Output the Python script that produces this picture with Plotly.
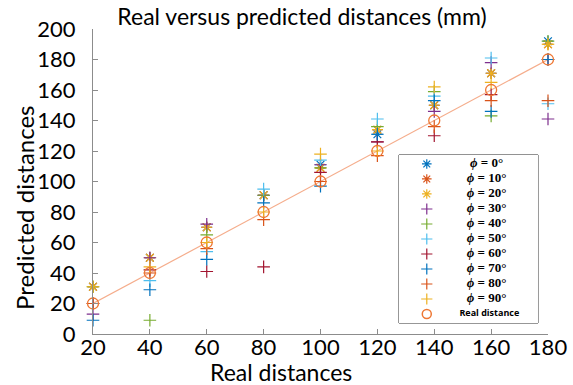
import plotly.graph_objects as go

real = [20, 40, 60, 80, 100, 120, 140, 160, 180]
angles = ["0", "10", "20", "30", "40", "50", "60", "70", "80", "90"]
pred = {
    "0":  [31, 50, 70, 91, 111, 131, 150, 171, 192],
    "10": [31, 50, 70, 91, 109, 134, 150, 171, 190],
    "20": [31, 50, 70, 91, 109, 134, 150, 171, 190],
    "30": [13, 50, 72, 91, 111, 126, 146, 178, 141],
    "40": [31, 9, 65, 91, 109, 136, 159, 143, 192],
    "50": [20, 35, 54, 95, 114, 141, 156, 181, 151],
    "60": [20, 42, 41, 44, 106, 126, 130, 157, 180],
    "70": [9, 29, 49, 86, 97, 131, 153, 146, 180],
    "80": [20, 40, 56, 75, 100, 117, 136, 153, 153],
    "90": [31, 44, 60, 80, 118, 120, 162, 165, 190],
}
legend_labels = [f"<b><i>ϕ</i> = {a}°</b>" for a in angles] + ["Real distance"]

colors = ["#0072BD", "#D95319", "#EDB120", "#7E2F8E", "#77AC30",
          "#4DBEEE", "#A2142F", "#0072BD", "#D95319", "#EDB120"]
symbols = ["asterisk-open"] * 3 + ["cross-thin-open"] * 7
circle_color = "#EE7733"

fig = go.Figure()
fig.add_trace(go.Scatter(x=real, y=real, mode="lines",
                         line=dict(color="#F5AD8C", width=1.2),
                         showlegend=False, hoverinfo="skip"))
for a, c, s, lab in zip(angles, colors, symbols, legend_labels):
    fig.add_trace(go.Scatter(
        x=real, y=pred[a], mode="markers", cliponaxis=False, showlegend=False,
        name=f"ϕ = {a}°",
        marker=dict(symbol=s, size=9, color=c, line=dict(color=c, width=1.2)),
    ))
    # legend entry (drawn on a small helper axis inside the plot)
    fig.add_trace(go.Scatter(
        x=[0.2], y=[lab], mode="markers", xaxis="x2", yaxis="y2",
        showlegend=False, hoverinfo="skip",
        marker=dict(symbol=s, size=8, color=c, line=dict(color=c, width=1.2)),
    ))
fig.add_trace(go.Scatter(
    x=real, y=real, mode="markers", cliponaxis=False, showlegend=False,
    name="Real distance",
    marker=dict(symbol="circle-open", size=11, color=circle_color,
                line=dict(color=circle_color, width=1.3)),
))
fig.add_trace(go.Scatter(
    x=[0.2], y=[legend_labels[-1]], mode="markers", xaxis="x2", yaxis="y2",
    showlegend=False, hoverinfo="skip",
    marker=dict(symbol="circle-open", size=9, color=circle_color,
                line=dict(color=circle_color, width=1.5)),
))
# legend texts
fig.add_trace(go.Scatter(
    x=[0.63] * 10, y=legend_labels[:10], mode="text", text=legend_labels[:10],
    xaxis="x2", yaxis="y2", showlegend=False, hoverinfo="skip",
    textfont=dict(family="Liberation Serif", size=13, color="black"),
))
fig.add_trace(go.Scatter(
    x=[0.65], y=[legend_labels[-1]], mode="text", text=["<b>Real distance</b>"],
    xaxis="x2", yaxis="y2", showlegend=False, hoverinfo="skip",
    textfont=dict(family="Open Sans", size=9, color="black"),
))

axis_common = dict(showline=True, linecolor="#8c8c8c", linewidth=1,
                   ticks="inside", ticklen=5, tickcolor="#8c8c8c",
                   showgrid=False, zeroline=False, mirror=False, automargin=False,
                   tickfont=dict(family="Lato", size=22, color="black"))
fig.update_layout(
    xaxis=dict(range=[20, 180], tickvals=real, ticklabelstandoff=-6, **axis_common),
    yaxis=dict(range=[0, 200], tickvals=list(range(0, 201, 20)),
               ticklabelstandoff=12, **axis_common),
    xaxis2=dict(domain=[0.6725, 0.978], anchor="y2", range=[0, 1], visible=False,
                fixedrange=True),
    yaxis2=dict(domain=[0.036, 0.587], anchor="x2", type="category",
                categoryorder="array", categoryarray=legend_labels[::-1],
                range=[-0.6, 10.6], visible=False, fixedrange=True),
    shapes=[dict(type="rect", xref="x2 domain", yref="y2 domain",
                 x0=0, x1=1, y0=0, y1=1, layer="below",
                 fillcolor="white", line=dict(color="#333333", width=1))],
    annotations=[
        dict(text="Predicted distances", textangle=-90, xref="paper", yref="paper",
             x=-0.152, y=0.413, xanchor="center", yanchor="middle", showarrow=False,
             font=dict(family="Lato", size=24, color="black")),
        dict(text="Real distances", xref="paper", yref="paper",
             x=0.413, y=-0.125, xanchor="center", yanchor="middle", showarrow=False,
             font=dict(family="Lato", size=23, color="black")),
    ],
    width=573, height=385,
    margin=dict(l=93, r=25, t=29, b=51),
    paper_bgcolor="white", plot_bgcolor="white",
    showlegend=False,
    title=dict(text="Real versus predicted distances (mm)", x=0.527, xanchor="center",
               y=0.956, yanchor="middle",
               font=dict(family="Lato", size=23, color="black")),
)
fig.write_html("out.html", config={"displayModeBar": False},
               post_script="document.body.style.margin='0';"
                           "document.body.style.overflow='hidden';")
